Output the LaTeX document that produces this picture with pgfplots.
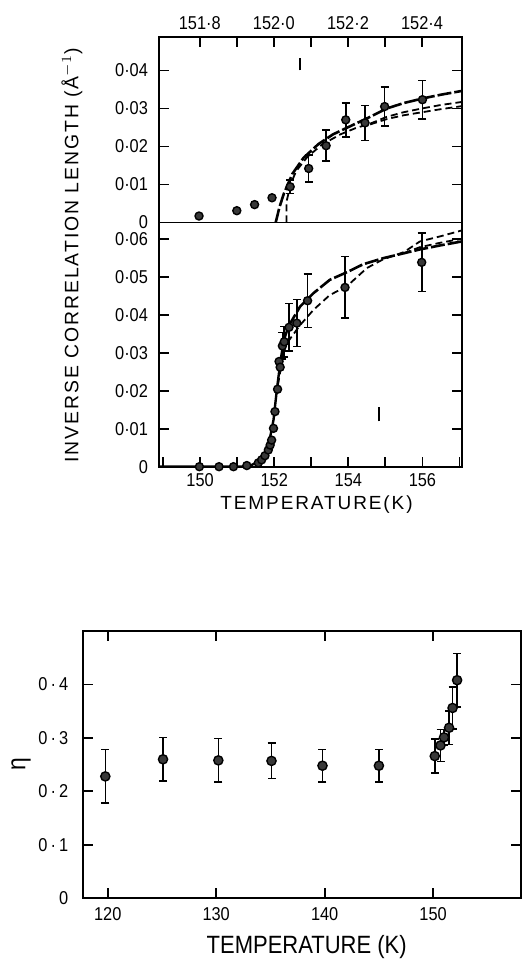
\documentclass[border=0pt]{standalone}
\usepackage{fontspec}
\setmainfont{Liberation Sans}[FakeStretch=0.88]
\newfontfamily\labfont{Liberation Sans}[LetterSpace=10]
\usepackage{pgfplots}
\pgfplotsset{compat=1.18}
\pgfplotsset{
  every axis/.append style={
    scale only axis, tick align=inside,
    major tick length=5pt, minor tick length=5pt,
    axis line style={line width=0.9pt},
    every tick/.append style={line width=0.9pt, black},
    tick label style={font=\fontsize{9.3}{9.3}\selectfont},
    scaled y ticks=false, scaled x ticks=false,
  },
  pts/.style={only marks, mark=*, mark size=#1,
    mark options={fill=black!78, draw=black, line width=0.7pt},
    error bars/.cd, y dir=both, y explicit,
    error bar style={line width=0.8pt},
    error mark options={rotate=90, mark size=2pt, line width=0.8pt}},
  pts/.default=2pt,
  fitA/.style={line width=1.3pt, dash pattern=on 7pt off 1.5pt, black},
  fitB/.style={line width=0.9pt, dash pattern=on 3.5pt off 2pt, black},
}
\begin{document}
\begin{tikzpicture}
\useasboundingbox (0pt,0pt) rectangle (260.5pt,480.5pt);

% ---------------- top panel ----------------
\begin{axis}[at={(79.5pt,369.25pt)}, anchor=south west,
  width=151.35pt, height=92.75pt,
  xmin=151.69, xmax=152.507, ymin=0, ymax=0.0488,
  xtick={151.8,152.0,152.2,152.4}, xticklabels={151·8,152·0,152·2,152·4},
  minor xtick={151.9,152.1,152.3},
  xtick pos=right, xticklabel pos=right,
  ytick={0,0.01,0.02,0.03,0.04}, yticklabels={0,0·01,0·02,0·03,0·04},
  ytick pos=both, yticklabel pos=left,
  yticklabel style={xshift=-2pt}]
\addplot[fitA] coordinates {
(152.005,0) (152.015,0.0040) (152.027,0.0076) (152.05,0.0128) (152.08,0.0170)
(152.12,0.0206) (152.16,0.0232) (152.21,0.0255) (152.26,0.0278) (152.305,0.0300)
(152.35,0.0314) (152.40,0.0326) (152.45,0.0336) (152.507,0.0346)};
\addplot[fitB] coordinates {
(152.034,0) (152.034,0.0054) (152.045,0.0100) (152.06,0.0135) (152.09,0.0172)
(152.13,0.0205) (152.18,0.0232) (152.22,0.0248) (152.26,0.0260) (152.305,0.0278)
(152.35,0.0290) (152.40,0.0300) (152.45,0.0309) (152.507,0.0317)};
\addplot[fitB] coordinates {
(152.26,0.0258) (152.305,0.0272) (152.35,0.0282) (152.40,0.0290) (152.45,0.0298) (152.507,0.0306)};
\addplot[pts] table[x=x, y=y, y error=e] {
x y e
151.798 0.0017 0
151.900 0.0031 0
151.948 0.0047 0
151.995 0.0065 0
152.044 0.0094 0.0018
152.094 0.0142 0.0035
152.141 0.0202 0.0041
152.194 0.0270 0.0045
152.246 0.0262 0.0046
152.299 0.0305 0.0051
152.401 0.0323 0.0050
};
\addplot[line width=0.9pt] coordinates {(152.07,0.0400) (152.07,0.0432)};
\end{axis}

% ---------------- bottom panel ----------------
\begin{axis}[at={(79.5pt,247.15pt)}, anchor=south west,
  width=151.35pt, height=122.1pt,
  xmin=148.89, xmax=157.06, ymin=0, ymax=0.0643,
  xtick={150,152,154,156}, xticklabels={150,152,154,156},
  minor xtick={149,151,153,155,157},
  xtick pos=left, xticklabel pos=left,
  ytick={0,0.01,0.02,0.03,0.04,0.05,0.06},
  yticklabels={0,0·01,0·02,0·03,0·04,0·05,0·06},
  ytick pos=both, yticklabel pos=left,
  yticklabel style={xshift=-2pt}]
\addplot[line width=1.2pt] coordinates {
(148.89,0) (151.3,0) (151.48,0.0009) (151.7,0.0030) (151.84,0.0053) (151.98,0.0123)
(152.07,0.0202) (152.16,0.0272) (152.25,0.0329) (152.38,0.0369)};
\addplot[fitA] coordinates {
(152.38,0.0369) (152.7,0.0422) (153.06,0.0457) (153.5,0.0492) (153.96,0.0512)
(154.4,0.0533) (154.94,0.0549) (155.5,0.0562) (155.93,0.0572) (156.5,0.0583) (157.06,0.0593)};
\addplot[fitB] coordinates {
(152.1,0.0215) (152.25,0.0300) (152.34,0.0325) (152.7,0.0373) (153.06,0.0413)
(153.5,0.0452) (153.96,0.0475) (154.5,0.0523) (154.94,0.0546) (155.5,0.0565)
(155.93,0.0593) (156.5,0.0607) (157.06,0.0622)};
\addplot[fitB] coordinates {
(155.5,0.0562) (155.93,0.0578) (156.5,0.0590) (157.06,0.0600)};
\addplot[pts] table[x=x, y=y, y error=e] {
x y e
149.98 0 0
150.51 0 0
150.90 0 0
151.26 0.0003 0
151.57 0.0010 0
151.66 0.0018 0
151.75 0.0029 0
151.84 0.0044 0
151.89 0.0057 0
151.93 0.0070 0
151.98 0.0101 0
152.02 0.0145 0
152.09 0.0204 0
152.13 0.0277 0
152.16 0.0262 0
152.22 0.0318 0.0035
152.27 0.0329 0.0040
152.40 0.0367 0.0063
152.61 0.0378 0.0062
152.90 0.0437 0.0071
153.91 0.0472 0.0081
155.98 0.0538 0.0077
};
\addplot[line width=0.9pt] coordinates {(154.83,0.0119) (154.83,0.0158)};
\end{axis}

% ---------------- eta panel ----------------
\begin{axis}[at={(41.65pt,31.35pt)}, anchor=south west,
  width=218.85pt, height=133.65pt,
  xmin=117.75, xmax=158.1, ymin=0, ymax=0.5,
  xtick={120,130,140,150}, xticklabels={120,130,140,150},
  ytick={0,0.1,0.2,0.3,0.4},
  yticklabels={0,0\,·\,1,0\,·\,2,0\,·\,3,0\,·\,4},
  xtick pos=both, xticklabel pos=left,
  ytick pos=both, yticklabel pos=left,
  yticklabel style={xshift=-4pt}, xticklabel style={yshift=-1pt}]
\addplot[pts=2.3pt] table[x=x, y=y, y error=e] {
x y e
119.78 0.228 0.050
125.10 0.260 0.041
130.20 0.258 0.041
135.10 0.257 0.033
139.80 0.248 0.030
145.00 0.248 0.030
150.15 0.266 0.032
150.68 0.286 0.030
151.00 0.301 0.015
151.47 0.319 0.031
151.79 0.356 0.039
152.21 0.408 0.050
};
\end{axis}

% ---------------- axis labels ----------------
\node[rotate=90, font=\labfont\fontsize{9.7}{9.7}\selectfont] at (36pt,352.75pt)
  {INVERSE CORRELATION LENGTH (Å$^{-1}$)};
\node[font=\labfont\fontsize{9.5}{9.5}\selectfont] at (158.25pt,228pt) {TEMPERATURE(K)};
\node[font=\fontsize{12.5}{12.5}\selectfont] at (153.35pt,7.15pt) {TEMPERATURE (K)};
\node[rotate=90, font=\fontsize{13}{13}\selectfont] at (10.5pt,98.5pt) {η};
\end{tikzpicture}
\end{document}
